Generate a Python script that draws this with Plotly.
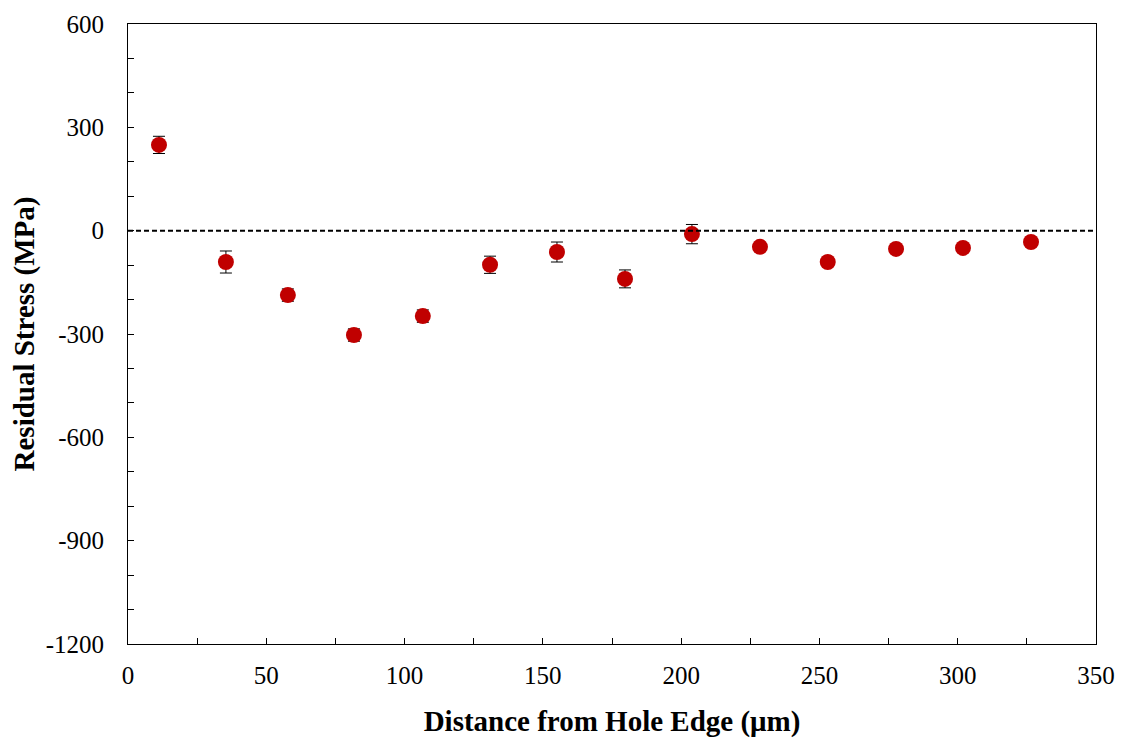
import plotly.graph_objects as go

distance_um = [11.2, 35.4, 57.8, 81.7, 106.6, 130.9, 155.1, 179.7, 203.9, 228.5, 253.0, 277.7, 301.9, 326.5]
stress_mpa = [249, -91, -187, -303, -248, -99, -62, -140, -10, -47, -91, -53, -50, -33]
stress_err = [25, 32, 18, 18, 18, 25, 29, 26, 28, 8, 8, 8, 8, 8]

x_ticks = [0, 50, 100, 150, 200, 250, 300, 350]
y_ticks = [600, 300, 0, -300, -600, -900, -1200]
y_tick_text = ["600", "300", "0", "-300", "-600", "-900", "-1200"]

fig = go.Figure()
fig.add_trace(go.Scatter(
    x=distance_um, y=stress_mpa, mode="markers",
    marker=dict(color="#C00000", size=16, line=dict(width=0)),
    error_y=dict(type="data", array=stress_err, visible=True,
                 color="black", thickness=1, width=6),
    showlegend=False,
))
fig.add_shape(type="line", xref="paper", x0=0, x1=1, yref="y", y0=0, y1=0,
              line=dict(color="black", width=2, dash="5px,3px"))

axis_font = dict(family="Liberation Serif, Times New Roman, serif", size=25, color="black")
title_font = dict(family="Liberation Serif, Times New Roman, serif", size=29, color="black")

fig.update_layout(
    width=1126, height=739,
    margin=dict(l=120, r=38, t=16, b=103),
    plot_bgcolor="white", paper_bgcolor="white",
    xaxis=dict(range=[0, 350], tickvals=x_ticks, ticks="inside", ticklen=6,
               tickcolor="black", showline=True, linecolor="black", linewidth=1,
               mirror=True, showgrid=False, zeroline=False, tickfont=axis_font,
               automargin=False, ticklabelstandoff=9,
               minor=dict(dtick=25, ticks="inside", ticklen=6, tickcolor="black"),
               title=dict(text="<b>Distance from Hole Edge (μm)</b>", font=title_font, standoff=22)),
    yaxis=dict(range=[-1200, 600], tickvals=y_ticks, ticktext=y_tick_text, ticks="inside", ticklen=6,
               tickcolor="black", showline=True, linecolor="black", linewidth=1,
               mirror=True, showgrid=False, zeroline=False, tickfont=axis_font,
               automargin=False, ticklabelstandoff=18,
               minor=dict(dtick=100, ticks="inside", ticklen=6, tickcolor="black"),
               title=dict(text="<b>Residual Stress (MPa)</b>", font=title_font, standoff=6)),
)

fig.write_html("out.html")
